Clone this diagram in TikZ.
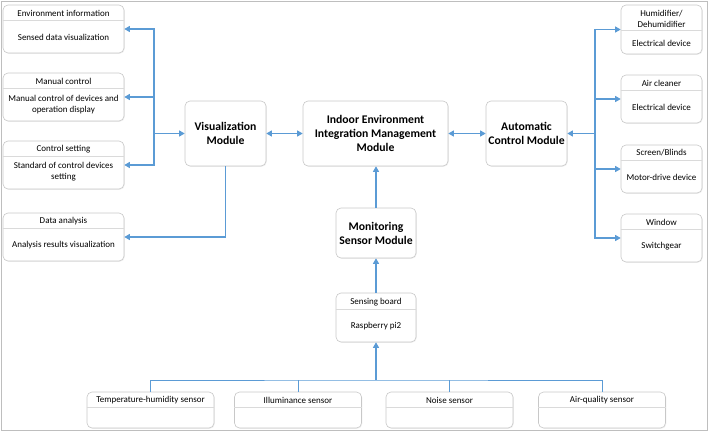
\documentclass[tikz,border=0pt]{standalone}
\usepackage{fontspec}
\setmainfont{Carlito}
\usetikzlibrary{arrows.meta,shadows}
\definecolor{linkblue}{RGB}{91,155,213}
\definecolor{boxgray}{RGB}{200,200,200}
\definecolor{divgray}{RGB}{218,218,218}
\definecolor{framegray}{RGB}{190,190,190}
\begin{document}
\begin{tikzpicture}[x=1pt,y=-1pt,
	box/.style={draw=boxgray, fill=white, rounded corners=5pt, line width=0.6pt,
		drop shadow={opacity=0.12, shadow xshift=0.8pt, shadow yshift=-0.8pt}},
	module/.style={box, font=\bfseries\fontsize{11.7}{14}\selectfont, align=center, inner sep=0pt},
	ttl/.style={font=\fontsize{9}{11}\selectfont, align=center, inner sep=0pt},
	divider/.style={draw=divgray, line width=0.6pt},
	link/.style={draw=linkblue, line width=1.1pt, -{Triangle[width=6pt,length=5.5pt]}},
	dlink/.style={link, {Triangle[width=6pt,length=5.5pt]}-{Triangle[width=6pt,length=5.5pt]}},
	tree/.style={draw=linkblue, line width=0.9pt}]
			\useasboundingbox (0,0) rectangle (709,431);
			\draw[framegray, line width=0.6pt] (1,1) rectangle (707.5,430);

			% left column
			\node[box, minimum width=121pt, minimum height=48pt] (env) at (63.5,29) {};
			\node[ttl] (envt) at (63.5,13) {Environment information};
			\node[ttl] (envb) at (63.5,37) {Sensed data visualization};
			\draw[divider] ([yshift=-16pt]env.north west) -- ([yshift=-16pt]env.north east);

			\node[box, minimum width=121pt, minimum height=48pt] (manual) at (63.5,97) {};
			\node[ttl] (manualt) at (63.5,81) {Manual control};
			\node[ttl] (manualb) at (63.5,104.5) {Manual control of devices and\\operation display};
			\draw[divider] ([yshift=-16pt]manual.north west) -- ([yshift=-16pt]manual.north east);

			\node[box, minimum width=121pt, minimum height=48pt] (ctrl) at (63.5,165) {};
			\node[ttl] (ctrlt) at (63.5,149) {Control setting};
			\node[ttl] (ctrlb) at (63.5,171.5) {Standard of control devices\\setting};
			\draw[divider] ([yshift=-16pt]ctrl.north west) -- ([yshift=-16pt]ctrl.north east);

			\node[box, minimum width=121pt, minimum height=48pt] (data) at (63.5,237) {};
			\node[ttl] (datat) at (63.5,221) {Data analysis};
			\node[ttl] (datab) at (63.5,245) {Analysis results visualization};
			\draw[divider] ([yshift=-16pt]data.north west) -- ([yshift=-16pt]data.north east);

			% modules
			\node[module, minimum width=81pt, minimum height=65pt] (vis) at (225.5,133.5) {Visualization\\Module};
			\node[module, minimum width=145pt, minimum height=65pt] (integ) at (375.5,133.5) {Indoor Environment\\Integration Management\\Module};
			\node[module, minimum width=81pt, minimum height=65pt] (auto) at (526.5,133.5) {Automatic\\Control Module};
			\node[module, minimum width=80pt, minimum height=50pt] (mon) at (376,233) {Monitoring\\Sensor Module};

			% right column
			\node[box, minimum width=81pt, minimum height=49pt] (hum) at (661.5,29.5) {};
			\node[ttl] (humt) at (661.5,18.5) {Humidifier/\\Dehumidifier};
			\node[ttl] (humb) at (661.5,43) {Electrical device};
			\draw[divider] ([yshift=-26pt]hum.north west) -- ([yshift=-26pt]hum.north east);

			\node[box, minimum width=81pt, minimum height=48pt] (air) at (661.5,99) {};
			\node[ttl] (airt) at (661.5,83) {Air cleaner};
			\node[ttl] (airb) at (661.5,107) {Electrical device};
			\draw[divider] ([yshift=-16pt]air.north west) -- ([yshift=-16pt]air.north east);

			\node[box, minimum width=81pt, minimum height=48pt] (screen) at (661.5,169) {};
			\node[ttl] (screent) at (661.5,153) {Screen/Blinds};
			\node[ttl] (screenb) at (661.5,177) {Motor-drive device};
			\draw[divider] ([yshift=-16pt]screen.north west) -- ([yshift=-16pt]screen.north east);

			\node[box, minimum width=81pt, minimum height=48pt] (window) at (661.5,238) {};
			\node[ttl] (windowt) at (661.5,222) {Window};
			\node[ttl] (windowb) at (661.5,246) {Switchgear};
			\draw[divider] ([yshift=-16pt]window.north west) -- ([yshift=-16pt]window.north east);

			% sensing board and sensors
			\node[box, minimum width=80pt, minimum height=49pt] (board) at (376,317.5) {};
			\node[ttl] (boardt) at (376,302) {Sensing board};
			\node[ttl] (boardb) at (376,326) {Raspberry pi2};
			\draw[divider] ([yshift=-17pt]board.north west) -- ([yshift=-17pt]board.north east);

			\node[box, minimum width=127pt, minimum height=36pt] (temp) at (150.5,410) {};
			\node[ttl] (tempt) at (150.5,400) {Temperature-humidity sensor};
			\draw[divider] ([yshift=-16pt]temp.north west) -- ([yshift=-16pt]temp.north east);

			\node[box, minimum width=127pt, minimum height=36pt] (illum) at (298,410) {};
			\node[ttl] (illumt) at (298,400) {Illuminance sensor};
			\draw[divider] ([yshift=-16pt]illum.north west) -- ([yshift=-16pt]illum.north east);

			\node[box, minimum width=127pt, minimum height=36pt] (noise) at (449.5,410) {};
			\node[ttl] (noiset) at (449.5,400) {Noise sensor};
			\draw[divider] ([yshift=-16pt]noise.north west) -- ([yshift=-16pt]noise.north east);

			\node[box, minimum width=127pt, minimum height=36pt] (airq) at (602,410) {};
			\node[ttl] (airqt) at (602,400) {Air-quality sensor};
			\draw[divider] ([yshift=-16pt]airq.north west) -- ([yshift=-16pt]airq.north east);

			% connectors
			\coordinate (lbus) at (154,133.5);
			\draw[link] (lbus) -- (vis.west);
			\draw[link] (lbus) |- (env.east);
			\draw[link] (lbus) |- (manual.east);
			\draw[link] (lbus) |- (ctrl.east);
			\draw[link] (vis.south) |- (data.east);
			\draw[dlink] (vis) -- (integ);
			\draw[dlink] (integ) -- (auto);

			\coordinate (rbus) at (595,133.5);
			\draw[link] (rbus) -- (auto.east);
			\draw[link] (rbus) |- (hum.west);
			\draw[link] (rbus) |- (air.west);
			\draw[link] (rbus) |- (screen.west);
			\draw[link] (rbus) |- (window.west);

			\draw[link] (mon.north) -- (mon.north |- integ.south);
			\draw[link] (board) -- (mon);

			\coordinate (sbus) at (376,380);
			\draw[link] (sbus) -- (board);
			\draw[tree] (temp.north) |- (sbus) -| (airq.north);
			\draw[tree] (illum.north) -- (illum.north |- sbus);
			\draw[tree] (noise.north) -- (noise.north |- sbus);
		\end{tikzpicture}
\end{document}
